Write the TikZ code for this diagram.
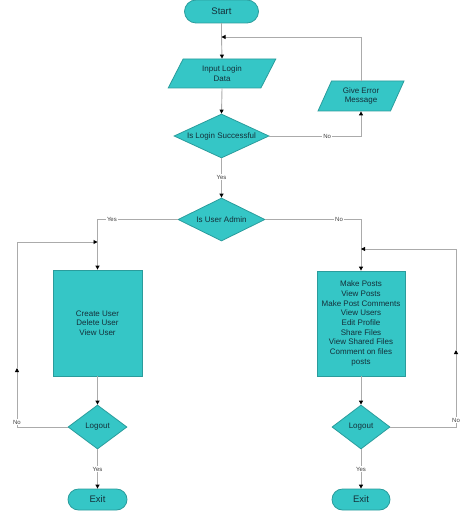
\documentclass[tikz,border=0pt]{standalone}
\usepackage{fontspec}
\setmainfont{Liberation Sans}
\usetikzlibrary{shapes.geometric,shapes.misc,arrows.meta}
\definecolor{tealfill}{HTML}{35C6C6}
\definecolor{tealedge}{HTML}{2A9C9C}
\definecolor{linegray}{HTML}{ABABAB}
\definecolor{txt}{HTML}{14303A}
\tikzset{
  shp/.style={draw=tealedge, fill=tealfill, line width=0.8pt, text=txt, inner sep=0pt, font=\fontsize{8}{9.7}\selectfont, align=center},
  term/.style={shp, rounded rectangle, font=\fontsize{9.5}{11}\selectfont},
  para/.style={shp, trapezium, trapezium left angle=64, trapezium right angle=116, trapezium stretches=true},
  dec/.style={shp, diamond},
  proc/.style={shp, rectangle},
  conn/.style={draw=linegray, line width=0.9pt},
  arr/.style={conn, -{Triangle[color=black, width=4pt, length=4pt]}},
  lbl/.style={fill=white, inner sep=0.8pt, text=black!75, font=\fontsize{6}{7}\selectfont}
}
\begin{document}
\begin{tikzpicture}[x=1pt, y=-1pt]
\useasboundingbox (0,0) rectangle (474,513);
% nodes
\node[term, minimum width=74pt, minimum height=23pt] (start) at (221.5,11.5) {Start};
\node[para, minimum width=108pt, minimum height=29pt] (input) at (222,73.5) {Input Login\\Data};
\node[para, minimum width=86pt, minimum height=30pt] (err) at (361,96) {Give Error\\Message};
\node[dec, aspect=2.4, minimum width=95pt, minimum height=44pt] (login) at (221.5,136) {Is Login Successful};
\node[dec, aspect=2.2, minimum width=87pt, minimum height=43pt] (admin) at (221.5,219.5) {Is User Admin};
\node[proc, minimum width=89pt, minimum height=106pt] (lbox) at (97.5,323) {Create User\\Delete User\\View User};
\node[proc, minimum width=88pt, minimum height=105pt] (rbox) at (361,323.5) {Make Posts\\View Posts\\Make Post Comments\\View Users\\Edit Profile\\Share Files\\View Shared Files\\Comment on files\\posts};
\node[dec, aspect=1.35, minimum width=59pt, minimum height=44pt] (lout) at (97.5,427) {Logout};
\node[dec, aspect=1.35, minimum width=58pt, minimum height=44pt] (rout) at (361,427) {Logout};
\node[term, minimum width=59pt, minimum height=21pt] (lexit) at (97.5,499.5) {Exit};
\node[term, minimum width=58pt, minimum height=21pt] (rexit) at (361,499.5) {Exit};
% junctions and corners
\coordinate (j1) at (221.5,37);
\coordinate (jl) at (97.5,242);
\coordinate (jr) at (361,249);
\coordinate (cl1) at (17,427);
\coordinate (cl2) at (17,368);
\coordinate (cl3) at (17,242);
\coordinate (cr1) at (456,427);
\coordinate (cr2) at (456,350);
\coordinate (cr3) at (456,249);
% connectors
\draw[conn] (start.south) -- (j1);
\draw[arr] (j1) -- (input.north);
\draw[arr] (input.south) -- (login.north);
\draw[arr] (login.east) -| node[lbl, pos=0.315] {No} (err.south);
\draw[arr] (err.north) |- (j1);
\draw[arr] (login.south) -- node[lbl, pos=0.48] {Yes} (admin.north);
\draw[conn] (admin.west) -| node[lbl, pos=0.41] {Yes} (jl);
\draw[arr] (jl) -- (lbox.north);
\draw[conn] (admin.east) -| node[lbl, pos=0.385] {No} (jr);
\draw[arr] (jr) -- (rbox.north);
\draw[arr] (lbox.south) -- (lout.north);
\draw[arr] (rbox.south) -- (rout.north);
\draw[arr] (lout.south) -- node[lbl, pos=0.5] {Yes} (lexit.north);
\draw[arr] (rout.south) -- node[lbl, pos=0.5] {Yes} (rexit.north);
\draw[arr] (lout.west) -- (cl1) -- node[lbl, pos=0.08] {No} (cl2);
\draw[arr] (cl2) -- (cl3) -- (jl);
\draw[arr] (rout.east) -- (cr1) -- node[lbl, pos=0.09] {No} (cr2);
\draw[arr] (cr2) -- (cr3) -- (jr);
\end{tikzpicture}
\end{document}
